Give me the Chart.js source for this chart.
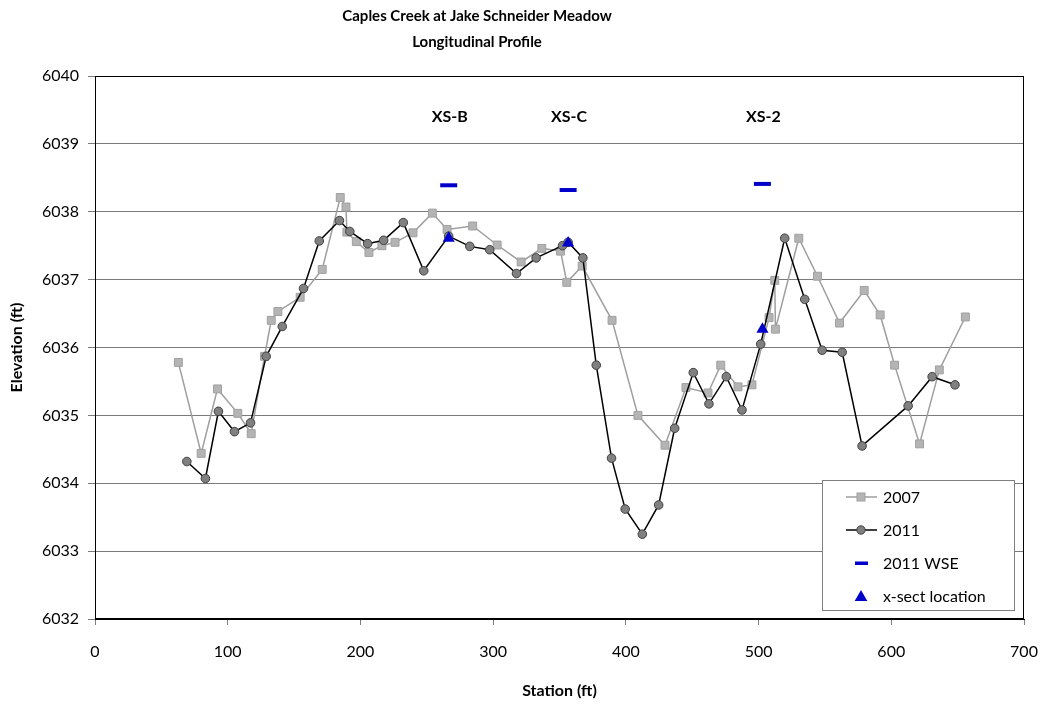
<!DOCTYPE html>
<html>
<head>
<meta charset="utf-8">
<title>Caples Creek at Jake Schneider Meadow</title>
<script src="https://cdn.jsdelivr.net/npm/chart.js@4.4.1/dist/chart.umd.min.js"></script>
<style>
  html, body { margin: 0; padding: 0; background: #fff; }
  #wrap { width: 1044px; height: 705px; }
</style>
</head>
<body>
<div id="wrap"><canvas id="profileChart" width="1044" height="705"></canvas></div>
<script>
// 2007 survey
var station2007 = [62.8, 80.0, 92.3, 107.6, 117.7, 127.7, 132.8, 137.8, 154.6, 171.2,
    184.8, 189.1, 189.8, 196.9, 206.4, 216.2, 226.1, 239.6, 254.2, 265.3,
    284.6, 303.0, 321.1, 336.7, 350.8, 355.5, 367.1, 389.6, 409.1, 429.5,
    445.3, 461.9, 471.5, 484.5, 495.0, 507.9, 512.2, 512.7, 530.3, 544.4,
    561.0, 579.6, 591.6, 602.5, 621.3, 636.2, 655.8];
var elev2007 = [6035.78, 6034.44, 6035.39, 6035.03, 6034.73, 6035.87, 6036.40, 6036.53, 6036.74, 6037.15,
    6038.21, 6038.07, 6037.70, 6037.56, 6037.40, 6037.50, 6037.55, 6037.69, 6037.98, 6037.74,
    6037.79, 6037.51, 6037.26, 6037.46, 6037.42, 6036.96, 6037.20, 6036.40, 6035.00, 6034.56,
    6035.41, 6035.33, 6035.74, 6035.42, 6035.45, 6036.44, 6036.99, 6036.27, 6037.61, 6037.05,
    6036.36, 6036.84, 6036.48, 6035.74, 6034.58, 6035.67, 6036.45];

// 2011 survey
var station2011 = [69.2, 83.2, 93.0, 105.1, 117.2, 129.0, 141.1, 157.1, 169.0, 184.2,
    192.0, 205.4, 217.5, 232.3, 247.7, 266.5, 282.4, 297.4, 317.6, 332.4,
    352.3, 356.5, 367.6, 377.7, 389.2, 399.5, 412.4, 424.7, 436.8, 450.8,
    462.6, 475.7, 487.5, 501.6, 519.7, 534.8, 547.9, 563.0, 578.0, 612.7,
    630.8, 648.0];
var elev2011 = [6034.32, 6034.07, 6035.06, 6034.76, 6034.89, 6035.87, 6036.31, 6036.87, 6037.57, 6037.87,
    6037.71, 6037.53, 6037.58, 6037.84, 6037.13, 6037.64, 6037.49, 6037.44, 6037.09, 6037.32,
    6037.50, 6037.55, 6037.32, 6035.74, 6034.37, 6033.62, 6033.25, 6033.68, 6034.81, 6035.63,
    6035.17, 6035.57, 6035.08, 6036.05, 6037.61, 6036.71, 6035.96, 6035.93, 6034.55, 6035.14,
    6035.57, 6035.45];

// cross sections: location on profile and 2011 water surface
var xsLabels = ['XS-B', 'XS-C', 'XS-2'];
var xsStation = [266.5, 356.5, 502.9];
var xsElev = [6037.61, 6037.54, 6036.27];
var wseElev = [6038.39, 6038.32, 6038.41];

var xTicks = [0, 100, 200, 300, 400, 500, 600, 700];
var yTicks = [6032, 6033, 6034, 6035, 6036, 6037, 6038, 6039, 6040];

function pts(xs, ys) {
    return xs.map(function(x, i) { return { x: x, y: ys[i] }; });
}

var BLUE = '#0000CC';
var FONT = 'Lato, "Open Sans", sans-serif';

Chart.defaults.font.family = FONT;
Chart.defaults.font.size = 16;
Chart.defaults.color = '#000';

var headerPlugin = {
    id: 'header',
    afterDraw: function(chart) {
        var ctx = chart.ctx;
        ctx.save();
        ctx.fillStyle = '#000';
        ctx.font = 'bold 15px ' + FONT;
        ctx.textAlign = 'center';
        ctx.textBaseline = 'middle';
        ctx.fillText('Caples Creek at Jake Schneider Meadow', 477, 16);
        ctx.fillText('Longitudinal Profile', 477, 42);
        ctx.restore();
    }
};

var framePlugin = {
    id: 'frame',
    beforeDatasetsDraw: function(chart) {
        var a = chart.chartArea, ctx = chart.ctx;
        ctx.save();
        ctx.strokeStyle = '#000';
        ctx.lineWidth = 1;
        ctx.strokeRect(Math.round(a.left) + 0.5, Math.round(a.top) + 0.5,
            Math.round(a.right - a.left) - 1, Math.round(a.bottom - a.top) - 1);
        ctx.restore();
    }
};

var xsLabelPlugin = {
    id: 'xsLabels',
    afterDatasetsDraw: function(chart) {
        var ctx = chart.ctx, sx = chart.scales.x, sy = chart.scales.y;
        ctx.save();
        ctx.fillStyle = '#000';
        ctx.font = 'bold 16px ' + FONT;
        ctx.textAlign = 'center';
        ctx.textBaseline = 'middle';
        xsLabels.forEach(function(t, i) {
            ctx.fillText(t, sx.getPixelForValue(xsStation[i]) + 1, sy.getPixelForValue(6039.40));
        });
        ctx.restore();
    }
};

var legendBoxPlugin = {
    id: 'legendBox',
    afterDraw: function(chart) {
        var ctx = chart.ctx;
        var left = 822, top = 480, w = 192, h = 130;
        var cx = 861, tx = 883;
        var rows = [497, 530, 563, 596];
        var names = ['2007', '2011', '2011 WSE', 'x-sect location'];
        ctx.save();
        ctx.fillStyle = '#fff';
        ctx.fillRect(left, top, w, h);
        ctx.strokeStyle = '#808080';
        ctx.lineWidth = 1;
        ctx.strokeRect(left + 0.5, top + 0.5, w, h);

        // 2007
        ctx.strokeStyle = '#9E9E9E';
        ctx.lineWidth = 1.5;
        ctx.beginPath(); ctx.moveTo(846, rows[0]); ctx.lineTo(877, rows[0]); ctx.stroke();
        ctx.fillStyle = '#B4B4B4';
        ctx.strokeStyle = '#A0A0A0';
        ctx.lineWidth = 1;
        ctx.fillRect(cx - 4, rows[0] - 4, 8, 8);
        ctx.strokeRect(cx - 4, rows[0] - 4, 8, 8);

        // 2011
        ctx.strokeStyle = '#000';
        ctx.lineWidth = 1.5;
        ctx.beginPath(); ctx.moveTo(846, rows[1]); ctx.lineTo(877, rows[1]); ctx.stroke();
        ctx.fillStyle = '#808080';
        ctx.strokeStyle = '#404040';
        ctx.lineWidth = 1;
        ctx.beginPath(); ctx.arc(cx, rows[1], 4.2, 0, Math.PI * 2); ctx.fill(); ctx.stroke();

        // WSE
        ctx.fillStyle = BLUE;
        ctx.fillRect(cx - 6, rows[2] - 1.5, 13, 3.5);

        // x-sect location
        ctx.beginPath();
        ctx.moveTo(cx, rows[3] - 6);
        ctx.lineTo(cx + 6.3, rows[3] + 5);
        ctx.lineTo(cx - 6.3, rows[3] + 5);
        ctx.closePath();
        ctx.fill();

        ctx.fillStyle = '#000';
        ctx.font = '16px ' + FONT;
        ctx.textAlign = 'left';
        ctx.textBaseline = 'middle';
        names.forEach(function(n, i) { ctx.fillText(n, tx, rows[i] + 1); });
        ctx.restore();
    }
};

var ctx = document.getElementById('profileChart');
new Chart(ctx, {
    type: 'scatter',
    data: {
        datasets: [{
            label: '2007',
            data: pts(station2007, elev2007),
            showLine: true,
            borderColor: '#9E9E9E',
            borderWidth: 1.5,
            pointStyle: 'rect',
            pointRadius: 5.6,
            pointBackgroundColor: '#B4B4B4',
            pointBorderColor: '#A0A0A0',
            pointBorderWidth: 1,
            order: 4
        }, {
            label: '2011',
            data: pts(station2011, elev2011),
            showLine: true,
            borderColor: '#000',
            borderWidth: 1.5,
            pointStyle: 'circle',
            pointRadius: 4.3,
            pointBackgroundColor: '#808080',
            pointBorderColor: '#404040',
            pointBorderWidth: 1,
            order: 3
        }, {
            label: '2011 WSE',
            data: pts(xsStation, wseElev),
            showLine: false,
            pointStyle: 'line',
            pointRadius: 8.5,
            pointBorderColor: BLUE,
            pointBorderWidth: 4,
            order: 2
        }, {
            label: 'x-sect location',
            data: pts(xsStation, xsElev),
            showLine: false,
            pointStyle: 'triangle',
            pointRadius: 7,
            pointBackgroundColor: BLUE,
            pointBorderColor: BLUE,
            pointBorderWidth: 0,
            order: 1
        }]
    },
    options: {
        responsive: false,
        animation: false,
        layout: { padding: { top: 76, right: 20, bottom: 0, left: 0 } },
        plugins: {
            legend: { display: false },
            tooltip: { enabled: false },
            title: { display: false }
        },
        scales: {
            x: {
                type: 'linear',
                min: 0,
                max: 700,
                afterFit: function(s) {
                    s.height = 86;
                    // end labels fit inside the layout padding already
                    s.paddingLeft = 0;
                    s.paddingRight = 0;
                },
                afterBuildTicks: function(s) { s.ticks = xTicks.map(function(v) { return { value: v }; }); },
                ticks: {
                    padding: 17,
                    font: { size: 16 },
                    color: '#000',
                    callback: function(v) { return String(v); }
                },
                grid: {
                    drawOnChartArea: false,
                    drawTicks: true,
                    tickLength: 6,
                    tickColor: '#808080'
                },
                border: { color: '#000', width: 1 },
                title: {
                    display: true,
                    text: 'Station (ft)',
                    font: { size: 16, weight: 'bold' },
                    color: '#000',
                    padding: { top: 0, bottom: 5 }
                }
            },
            y: {
                type: 'linear',
                min: 6032,
                max: 6040,
                afterFit: function(s) { s.width = 95; },
                afterBuildTicks: function(s) { s.ticks = yTicks.map(function(v) { return { value: v }; }); },
                ticks: {
                    padding: 9,
                    font: { size: 16 },
                    color: '#000',
                    callback: function(v) { return String(v); }
                },
                grid: {
                    color: '#7A7A7A',
                    lineWidth: 1,
                    drawTicks: true,
                    tickLength: 7,
                    tickColor: '#7A7A7A'
                },
                border: { color: '#000', width: 1 },
                title: {
                    display: true,
                    text: 'Elevation (ft)',
                    font: { size: 16, weight: 'bold' },
                    color: '#000',
                    padding: { top: 7, bottom: 0 }
                }
            }
        }
    },
    plugins: [framePlugin, xsLabelPlugin, legendBoxPlugin, headerPlugin]
});
</script>
</body>
</html>
